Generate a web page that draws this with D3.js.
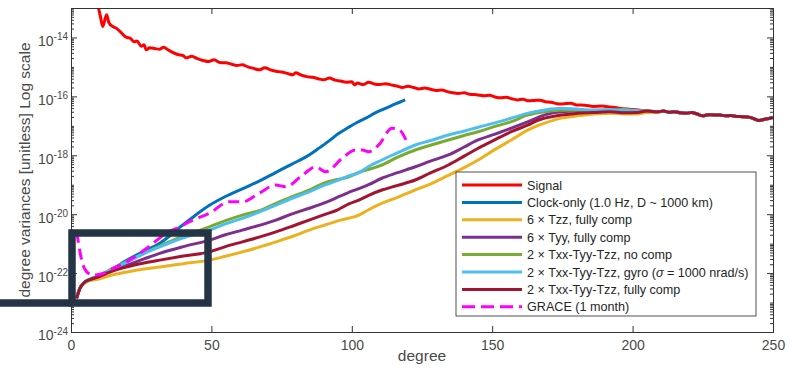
<!DOCTYPE html>
<html>
<head>
<meta charset="utf-8">
<script src="https://cdn.jsdelivr.net/npm/d3@7"></script>
<style>
  body { margin: 0; background: #fff; }
  svg { display: block; font-family: "Liberation Sans", Arial, sans-serif; }
</style>
</head>
<body>
<div id="chart"></div>
<script>
// [degree, log10(variance)]
const signal = [[9,-12.8],[9.7,-12.97],[10.5,-13.3],[11.3,-13.63],[12.2,-13.35],[12.7,-13.23],[13.5,-13.5],[14.9,-13.63],[16,-13.68],[17.5,-13.8],[19.8,-14.0],[21,-14.02],[22.5,-14.15],[23.5,-14.12],[25,-14.3],[26,-14.25],[26.8,-14.42],[28,-14.35],[30,-14.38],[31.5,-14.4],[33,-14.33],[34.5,-14.42],[36,-14.5],[38,-14.58],[40,-14.62],[41,-14.69],[43,-14.64],[45,-14.72],[47,-14.78],[49,-14.82],[51,-14.76],[53,-14.85],[55,-14.86],[57,-14.9],[59,-14.95],[61,-14.93],[63,-15.0],[65,-15.05],[67,-15.1],[69,-15.03],[71,-15.1],[73,-15.15],[75,-15.17],[77,-15.22],[79,-15.27],[80,-15.2],[82,-15.28],[84,-15.33],[86,-15.35],[88,-15.4],[90,-15.44],[92,-15.38],[94,-15.45],[96,-15.48],[98,-15.52],[100,-15.5],[101,-15.61],[102,-15.55],[104,-15.6],[106,-15.52],[108,-15.58],[110,-15.6],[112,-15.57],[114,-15.61],[116,-15.65],[118,-15.7],[120,-15.66],[122,-15.7],[124,-15.75],[126,-15.72],[128,-15.76],[130,-15.8],[132,-15.78],[134,-15.84],[136,-15.88],[138,-15.9],[140,-15.88],[142,-15.93],[145,-15.95],[147,-15.98],[149,-15.96],[151,-16.02],[153,-16.05],[155,-16.03],[157,-16.08],[159,-16.12],[161,-16.1],[163,-16.15],[165,-16.14],[167,-16.13],[169,-16.18],[171,-16.2],[173,-16.25],[175,-16.26],[178,-16.23],[180,-16.29],[183,-16.3],[186,-16.34],[189,-16.33],[192,-16.36],[195,-16.4],[198,-16.43],[202,-16.46],[205,-16.5],[209,-16.52]];

const clockOnly = [[2,-22.86],[3,-22.55],[4.4,-22.35],[6.7,-22.22],[9,-22.14],[14,-21.9],[20,-21.56],[25,-21.3],[31.6,-20.99],[35,-20.75],[38.7,-20.45],[44,-20.06],[49.3,-19.7],[55,-19.4],[61,-19.14],[67,-18.88],[73,-18.58],[78.7,-18.3],[84.8,-17.99],[88,-17.78],[91.8,-17.52],[95,-17.28],[98.9,-17.05],[102,-16.88],[105,-16.74],[108,-16.58],[110.7,-16.46],[114,-16.32],[117,-16.2],[119,-16.12]];

const tzz = [[2,-22.86],[3,-22.55],[4.4,-22.38],[6.7,-22.25],[9,-22.22],[14,-22.08],[20,-21.96],[26,-21.86],[31.6,-21.79],[40,-21.68],[49.3,-21.56],[55,-21.43],[61,-21.28],[67,-21.12],[73,-20.94],[79,-20.75],[84.8,-20.54],[90.7,-20.36],[96,-20.2],[102.5,-20.03],[106,-19.85],[110,-19.66],[116.7,-19.41],[122,-19.2],[128.5,-18.95],[134,-18.7],[140,-18.42],[145,-18.16],[151,-17.8],[156.8,-17.48],[162.8,-17.14],[168.7,-16.91],[174.6,-16.74],[180.5,-16.66],[186.4,-16.6],[192.3,-16.57],[197,-16.6],[201.8,-16.6],[205,-16.55],[209,-16.55]];

const tyy = [[2,-22.86],[3,-22.55],[4.4,-22.35],[6.7,-22.22],[9,-22.15],[14,-21.95],[20,-21.73],[26,-21.52],[31.6,-21.33],[40,-21.1],[49.3,-20.88],[55,-20.7],[61,-20.54],[67,-20.38],[73,-20.2],[79,-19.98],[84.8,-19.8],[90.7,-19.6],[96,-19.38],[100,-19.22],[106,-19.0],[110.7,-18.78],[116,-18.6],[122.6,-18.39],[128,-18.2],[134.4,-17.99],[140,-17.72],[145,-17.48],[151,-17.28],[156.8,-17.08],[162.8,-16.86],[168.7,-16.63],[174.6,-16.52],[180,-16.5],[186,-16.52],[192,-16.5],[197,-16.48],[201,-16.52],[205,-16.5],[209,-16.52]];

const noComp = [[2,-22.86],[3,-22.55],[4.4,-22.35],[6.7,-22.22],[9,-22.13],[14,-21.88],[20,-21.6],[26,-21.33],[31.6,-21.08],[40,-20.75],[49.3,-20.43],[55,-20.22],[61,-20.03],[67,-19.88],[73,-19.63],[79,-19.4],[84.8,-19.18],[90.7,-18.92],[95,-18.82],[99,-18.73],[102.5,-18.58],[107,-18.45],[110.7,-18.33],[116,-18.08],[122.6,-17.82],[128,-17.66],[134.4,-17.48],[140,-17.33],[145,-17.2],[151,-17.02],[156.8,-16.86],[162.8,-16.63],[168.7,-16.52],[174,-16.47],[180.5,-16.46],[186,-16.5],[192,-16.48],[197,-16.44],[201,-16.5],[205,-16.49],[209,-16.52]];

const gyro = [[2,-22.86],[3,-22.55],[4.4,-22.35],[6.7,-22.2],[9,-22.12],[14,-21.9],[20,-21.62],[25,-21.38],[31.6,-21.11],[40,-20.8],[49.3,-20.54],[55,-20.33],[61,-20.14],[67,-19.93],[73,-19.69],[79,-19.45],[84.8,-19.24],[90.7,-19.0],[95,-18.85],[99,-18.7],[102.5,-18.6],[106,-18.38],[110.7,-18.16],[116,-17.93],[122.6,-17.65],[128,-17.5],[134.4,-17.31],[140,-17.18],[145,-17.05],[151,-16.9],[156.8,-16.74],[162.8,-16.57],[168.7,-16.46],[174.6,-16.4],[180,-16.43],[186,-16.46],[192,-16.45],[197,-16.47],[201,-16.48],[205,-16.5],[209,-16.52]];

const fullyComp = [[2,-22.86],[3.2,-22.52],[4.4,-22.35],[6.7,-22.22],[9,-22.15],[14,-21.96],[20,-21.79],[26,-21.66],[31.6,-21.56],[40,-21.42],[49.3,-21.28],[55,-21.1],[61,-20.94],[67,-20.78],[73,-20.6],[79,-20.4],[84.8,-20.2],[90.7,-20.0],[95,-19.85],[99,-19.65],[102.5,-19.52],[106,-19.36],[110.7,-19.18],[116,-19.03],[122.6,-18.84],[128,-18.6],[134.4,-18.33],[140,-18.03],[145,-17.76],[151,-17.47],[156.8,-17.2],[162.8,-16.97],[166,-16.82],[168.7,-16.74],[174.6,-16.63],[178,-16.6],[180.5,-16.57],[186,-16.55],[192,-16.52],[197,-16.56],[201.8,-16.55],[205,-16.5],[209,-16.52]];

// high degrees where all curves sit on top of each other
const plateau = [[211,-16.5],[213,-16.54],[215,-16.52],[217,-16.56],[219,-16.57],[221,-16.55],[223,-16.6],[225,-16.66],[227,-16.62],[229,-16.63],[231,-16.63],[233,-16.66],[235,-16.65],[237,-16.68],[239,-16.69],[241,-16.7],[243,-16.75],[245,-16.82],[247,-16.78],[249,-16.74],[250,-16.72]];

const grace = [[2,-20.6],[2.6,-20.94],[3.8,-21.56],[5.6,-21.96],[7.9,-22.07],[11.5,-22.01],[15,-21.84],[19.8,-21.62],[24.5,-21.33],[29.2,-20.99],[33.9,-20.65],[38.7,-20.43],[43.4,-20.2],[49.3,-19.97],[56.3,-19.58],[61.1,-19.58],[67,-19.29],[72.9,-19.01],[76.5,-19.07],[82.5,-18.67],[87.1,-18.39],[90.7,-18.56],[96.6,-18.1],[101.3,-17.82],[103.7,-17.82],[106,-17.88],[109.6,-17.65],[114.3,-17.08],[116.7,-17.12],[119.6,-17.54]];

const seriesNames = [
  'Signal',
  'Clock-only (1.0 Hz, D ~ 1000 km)',
  '6 \u00d7 Tzz, fully comp',
  '6 \u00d7 Tyy, fully comp',
  '2 \u00d7 Txx-Tyy-Tzz, no comp',
  '2 \u00d7 Txx-Tyy-Tzz, gyro (\u03c3 = 1000 nrad/s)',
  '2 \u00d7 Txx-Tyy-Tzz, fully comp',
  'GRACE (1 month)'
];
const seriesColors = ['#ff0000', '#0072bd', '#edb120', '#7e2f8e', '#77ac30', '#4dbeee', '#a2142f', '#ff00ff'];

const xTicks = [0, 50, 100, 150, 200, 250];
const yMajorExp = [-24, -22, -20, -18, -16, -14];

const seriesData = [
  signal.concat(plateau),
  clockOnly,
  tzz.concat(plateau),
  tyy.concat(plateau),
  noComp.concat(plateau),
  gyro.concat(plateau),
  fullyComp.concat(plateau),
  grace
];

const width = 792, height = 373;
const margin = {top: 8, right: 19, bottom: 41, left: 71};
const innerW = width - margin.left - margin.right;
const innerH = height - margin.top - margin.bottom;
const axisColor = '#333';
const textColor = '#4a4a4a';

const svg = d3.select('#chart').append('svg')
  .attr('width', width)
  .attr('height', height);

const xScale = d3.scaleLinear().domain([0, 250]).range([0, innerW]);
const yScale = d3.scaleLog().domain([1e-24, 1e-13]).range([innerH, 0]);

const plot = svg.append('g')
  .attr('transform', 'translate(' + margin.left + ',' + margin.top + ')');

plot.append('clipPath').attr('id', 'plot-clip')
  .append('rect').attr('width', innerW).attr('height', innerH);

// minor log ticks
const yMinor = [];
for (let k = -24; k < -13; k++) {
  for (let m = 1; m <= 9; m++) {
    if (m === 1 && yMajorExp.includes(k)) continue;
    yMinor.push(m * Math.pow(10, k));
  }
}
const yMajor = yMajorExp.map(e => Math.pow(10, e));

function styleAxis(g) {
  g.select('.domain').attr('stroke', axisColor).attr('stroke-width', 1);
  g.selectAll('.tick line').attr('stroke', axisColor).attr('stroke-width', 1);
  g.selectAll('.tick text').attr('fill', textColor).attr('font-size', 14)
    .attr('font-family', '"Liberation Sans", Arial, sans-serif');
}

// lines
const line = d3.line()
  .x(d => xScale(d[0]))
  .y(d => yScale(Math.pow(10, d[1])))
  .curve(d3.curveMonotoneX);

const lines = plot.append('g').attr('clip-path', 'url(#plot-clip)');
seriesData.forEach((data, i) => {
  lines.append('path')
    .datum(data)
    .attr('fill', 'none')
    .attr('stroke', seriesColors[i])
    .attr('stroke-width', 3)
    .attr('stroke-linejoin', 'round')
    .attr('stroke-dasharray', i === 7 ? '11,6' : null)
    .attr('d', line);
});

// axes (ticks point inward like the original)
plot.append('g')
  .attr('transform', 'translate(0,' + innerH + ')')
  .call(d3.axisBottom(xScale).tickValues(xTicks).tickSize(-6).tickPadding(8).tickFormat(d3.format('d')))
  .call(styleAxis);

plot.append('g')
  .call(d3.axisTop(xScale).tickValues(xTicks).tickSize(-6).tickFormat(''))
  .call(styleAxis);

plot.append('g')
  .call(d3.axisLeft(yScale).tickValues(yMinor).tickSize(-3).tickFormat(''))
  .call(styleAxis);

plot.append('g')
  .call(d3.axisLeft(yScale).tickValues(yMajor).tickSize(-6).tickPadding(3).tickFormat(''))
  .call(styleAxis)
  .selectAll('.tick text')
  .attr('dy', '0.57em')
  .each(function(d) {
    const t = d3.select(this);
    t.append('tspan').text('10');
    t.append('tspan').attr('dy', '-0.55em').attr('font-size', 10)
      .text('-' + Math.round(-Math.log10(d)));
  });

plot.append('g')
  .attr('transform', 'translate(' + innerW + ',0)')
  .call(d3.axisRight(yScale).tickValues(yMinor).tickSize(-3).tickFormat(''))
  .call(styleAxis);

plot.append('g')
  .attr('transform', 'translate(' + innerW + ',0)')
  .call(d3.axisRight(yScale).tickValues(yMajor).tickSize(-6).tickFormat(''))
  .call(styleAxis);

// axis titles
svg.append('text')
  .attr('x', margin.left + innerW / 2)
  .attr('y', 361)
  .attr('text-anchor', 'middle')
  .attr('font-size', 15.5)
  .attr('fill', textColor)
  .text('degree');

svg.append('text')
  .attr('transform', 'translate(29.5,' + (margin.top + innerH / 2) + ') rotate(-90)')
  .attr('text-anchor', 'middle')
  .attr('font-size', 15.5)
  .attr('fill', textColor)
  .text('degree variances [unitless] Log scale');

// legend
const legend = svg.append('g').attr('transform', 'translate(456,172)');
legend.append('rect')
  .attr('width', 300).attr('height', 144)
  .attr('fill', '#fff')
  .attr('stroke', '#262626').attr('stroke-width', 0.8);

seriesNames.forEach((name, i) => {
  const row = legend.append('g').attr('transform', 'translate(0,' + (13 + i * 17.4) + ')');
  row.append('line')
    .attr('x1', 6).attr('x2', 66)
    .attr('stroke', seriesColors[i])
    .attr('stroke-width', 3)
    .attr('stroke-dasharray', i === 7 ? '13,6' : null);
  const label = row.append('text')
    .attr('x', 71).attr('y', 4.5)
    .attr('font-size', 12.6)
    .attr('fill', '#262626');
  // sigma in italic, as in the original
  name.split(/(\u03c3)/).forEach(part => {
    if (!part) return;
    label.append('tspan')
      .attr('font-style', part === '\u03c3' ? 'italic' : null)
      .text(part);
  });
});

// dark highlight frame drawn over the chart
svg.append('rect')
  .attr('x', 72).attr('y', 233)
  .attr('width', 136).attr('height', 70)
  .attr('fill', 'none')
  .attr('stroke', '#243444')
  .attr('stroke-width', 7.5);

svg.append('line')
  .attr('x1', 0).attr('x2', 72)
  .attr('y1', 303).attr('y2', 303)
  .attr('stroke', '#243444')
  .attr('stroke-width', 7.5);
</script>
</body>
</html>
